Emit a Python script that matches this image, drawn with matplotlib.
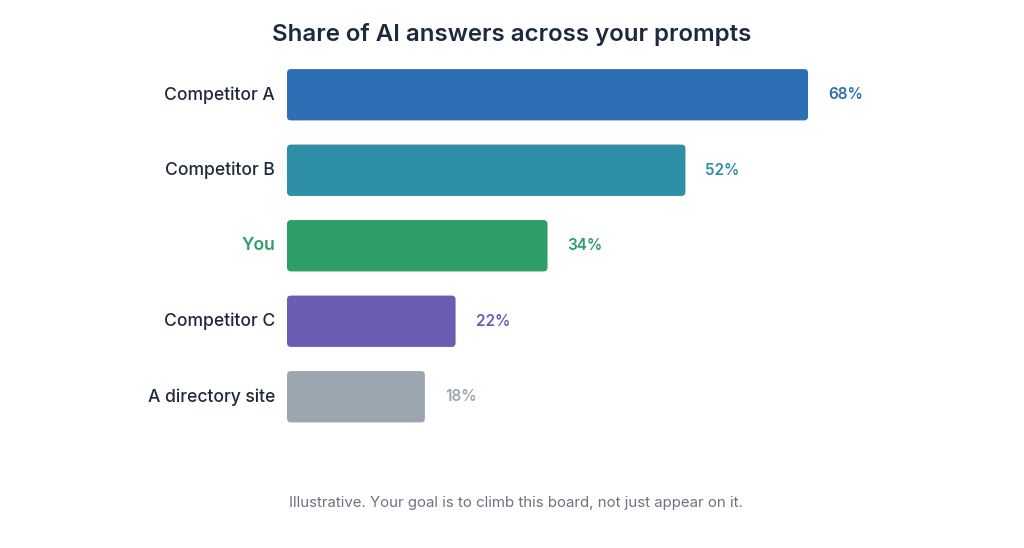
import matplotlib
matplotlib.use("Agg")
import matplotlib.pyplot as plt
from matplotlib.patches import FancyBboxPatch

categories = ["Competitor A", "Competitor B", "You", "Competitor C", "A directory site"]
values = [68, 52, 34, 22, 18]
colors = ["#2D6FB5", "#2F8FA7", "#2E9E69", "#6C5CB4", "#9CA6B1"]
label_colors = ["#1E293B", "#1E293B", "#2E9E69", "#1E293B", "#1E293B"]
title = "Share of AI answers across your prompts"
footnote = "Illustrative. Your goal is to climb this board, not just appear on it."

plt.rcParams['font.family'] = ['Inter', 'DejaVu Sans']

fig = plt.figure(figsize=(10.24, 5.48), dpi=100)
ax = fig.add_axes([287/1024, 1 - 434.5/548, 689.6/1024, 377.5/548])
xmax = 90
ax.set_xlim(0, xmax)
ax.set_ylim(4.5, -0.5)
ax.axis('off')

bh = 0.68
px_x = 689.6 / xmax
px_y = 377.5 / 5
rs = 4 / px_x
for i, (c, v, col) in enumerate(zip(categories, values, colors)):
    p = FancyBboxPatch((0, i - bh / 2), v, bh,
                       boxstyle=f"round,pad=0,rounding_size={rs}",
                       mutation_aspect=px_x / px_y,
                       facecolor=col, edgecolor='none')
    ax.add_patch(p)
    ax.text(v + 20 / px_x, i, f"{v}%", va='center', ha='left',
            fontsize=11, fontweight='semibold', color=col)
    ax.text(-12 / px_x, i, c, va='center', ha='right',
            fontsize=12.6, fontweight='medium' if c != "You" else 'semibold',
            color=label_colors[i])

fig.text(512 / 1024, 1 - 34.5 / 548, title, ha='center', va='center',
         fontsize=17.3, fontweight='semibold', color="#1B2A3F")
fig.text(516 / 1024, 1 - 503 / 548, footnote, ha='center', va='center',
         fontsize=10.8, color="#6B7280")

fig.savefig("out.png", dpi=100, facecolor='white')
